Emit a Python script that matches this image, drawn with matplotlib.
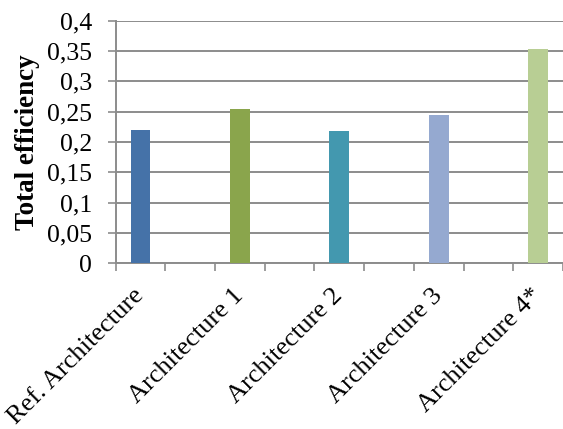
import numpy as np
import matplotlib
matplotlib.use("Agg")
import matplotlib.pyplot as plt
from matplotlib.ticker import FixedLocator, FuncFormatter

categories = ["Ref. Architecture", "Architecture 1", "Architecture 2",
              "Architecture 3", "Architecture 4*"]
efficiency = [0.22, 0.255, 0.218, 0.245, 0.354]
bar_colors = ["#4572A8", "#8AA54C", "#4398AF", "#95A9D0", "#B8CE94"]
y_ticks = np.arange(0, 0.41, 0.05)

plt.rcParams["font.family"] = ["Liberation Serif", "DejaVu Serif"]

fig = plt.figure(figsize=(5.63, 4.29), dpi=100)
ax = fig.add_axes([0.2055, 0.3862, 0.7945, 0.5655])

# every category sits in its own slot, with an empty slot between them
x = np.arange(len(categories)) * 2
ax.bar(x, efficiency, width=0.4, color=bar_colors, zorder=3)

ax.set_xlim(-0.5, x[-1] + 0.5)
ax.set_ylim(0, 0.4)

grid_col = "#8C8C8C"
ax.set_yticks(y_ticks)
ax.yaxis.set_major_formatter(FuncFormatter(lambda v, p: f"{v:.2f}".rstrip("0").rstrip(".").replace(".", ",")))
ax.grid(axis="y", color=grid_col, linewidth=1.4, zorder=0)
ax.tick_params(axis="y", direction="out", length=6, width=1.2, color=grid_col,
               labelsize=18.5, pad=11)

ax.set_xticks(x)
ax.set_xticklabels(categories, rotation=45, ha="right", va="center",
                   rotation_mode="anchor", fontsize=19)
ax.tick_params(axis="x", which="major", length=0, pad=21)
ax.xaxis.set_minor_locator(FixedLocator(np.arange(-0.5, x[-1] + 1, 1)))
ax.tick_params(axis="x", which="minor", direction="out", length=6, width=1.2,
               color=grid_col)

for side in ["top", "right"]:
    ax.spines[side].set_visible(False)
for side in ["left", "bottom"]:
    ax.spines[side].set_color(grid_col)
    ax.spines[side].set_linewidth(1.4)

ax.set_ylabel("Total efficiency", fontsize=19.5, fontweight="bold")
ax.yaxis.set_label_coords(-0.17, 0.5)

fig.savefig("out.png", dpi=100)
